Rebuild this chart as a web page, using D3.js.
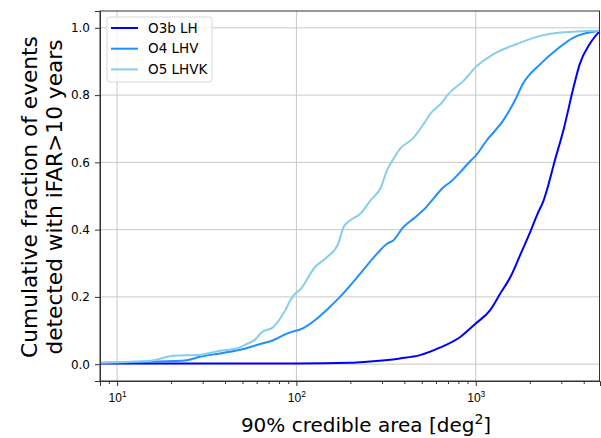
<!DOCTYPE html>
<html>
<head>
<meta charset="utf-8">
<script src="https://cdn.jsdelivr.net/npm/d3@7"></script>
<style>
    body { margin: 0; background: #fff; }
    svg { display: block; font-family: "DejaVu Sans", sans-serif; }
</style>
</head>
<body>
<svg id="chart" width="601" height="438"></svg>
<script>
// series: 90% credible area (deg^2) vs cumulative fraction
const series_names = ["O3b LH", "O4 LHV", "O5 LHVK"];
const series_colors = ["#0000ff", "#1e90ff", "#87ceeb"];

const o3b_area = [8, 100, 200, 247, 378, 489, 630, 820, 1000, 1200, 1370, 1560, 1780, 2030, 2210, 2390, 2520, 2730, 3110, 3510, 3800, 4320, 4930];
const o3b_frac = [0.002, 0.002, 0.004, 0.007, 0.017, 0.027, 0.049, 0.081, 0.121, 0.16, 0.21, 0.259, 0.328, 0.398, 0.447, 0.487, 0.526, 0.596, 0.704, 0.823, 0.892, 0.952, 0.991];

const o4_area = [8, 15, 24.5, 29, 37.5, 50.7, 62.8, 74.2, 88.5, 100, 105, 130, 150, 175, 227, 281, 320, 347, 394, 448, 530, 570, 660, 720, 820, 936, 1000, 1150, 1420, 1650, 1830, 2290, 2850, 3510, 4930];
const o4_frac = [0.003, 0.007, 0.012, 0.022, 0.032, 0.045, 0.06, 0.071, 0.091, 0.1, 0.103, 0.135, 0.165, 0.2, 0.269, 0.328, 0.358, 0.368, 0.407, 0.432, 0.467, 0.487, 0.526, 0.541, 0.571, 0.605, 0.62, 0.665, 0.724, 0.783, 0.833, 0.892, 0.937, 0.971, 0.991];

const o5_area = [8, 15.3, 20.6, 29, 37.5, 46.5, 52.9, 58.8, 64.2, 74.2, 81, 86.6, 92.5, 98.5, 105, 127, 148, 171, 183, 199, 227, 259, 296, 320, 347, 378, 448, 512, 558, 660, 690, 857, 1018, 1258, 1698, 2290, 2975, 4930];
const o5_frac = [0.005, 0.01, 0.025, 0.028, 0.04, 0.047, 0.06, 0.073, 0.095, 0.11, 0.135, 0.16, 0.19, 0.21, 0.222, 0.289, 0.318, 0.358, 0.407, 0.427, 0.447, 0.487, 0.526, 0.576, 0.61, 0.64, 0.672, 0.714, 0.744, 0.783, 0.798, 0.843, 0.887, 0.922, 0.952, 0.976, 0.986, 0.991];

const x_major = [10, 100, 1000];
const y_ticks = [0, 0.2, 0.4, 0.6, 0.8, 1.0];

const x_domain = [8.03, 4930];
const y_domain = [-0.05, 1.05];

const margin = {left: 100, top: 11, right: 1, bottom: 57};
const width = 601, height = 438;

const svg = d3.select("#chart");

const x = d3.scaleLog()
    .domain(x_domain)
    .range([margin.left, width - margin.right]);

const y = d3.scaleLinear()
    .domain(y_domain)
    .range([height - margin.bottom, margin.top]);

let x_minor = [];
[1, 10, 100, 1000].forEach(d => {
    for (let k = 2; k <= 9; k++) {
        let v = d * k;
        if (v >= x_domain[0] && v <= x_domain[1]) x_minor.push(v);
    }
});

// grid
let grid = svg.append("g").classed("grid", true)
    .attr("stroke", "#c8c8c8")
    .attr("stroke-width", 1);

grid.selectAll("line.gx")
    .data(x_major)
    .join("line")
    .classed("gx", true)
    .attr("x1", d => x(d)).attr("x2", d => x(d))
    .attr("y1", margin.top).attr("y2", height - margin.bottom);

grid.selectAll("line.gy")
    .data(y_ticks)
    .join("line")
    .classed("gy", true)
    .attr("x1", margin.left).attr("x2", width - margin.right)
    .attr("y1", d => y(d)).attr("y2", d => y(d));

// lines
let data = [
    {name: series_names[0], color: series_colors[0], area: o3b_area, frac: o3b_frac},
    {name: series_names[1], color: series_colors[1], area: o4_area, frac: o4_frac},
    {name: series_names[2], color: series_colors[2], area: o5_area, frac: o5_frac},
];

let line_generator = d3.line()
    .curve(d3.curveMonotoneX)
    .x(p => x(p[0]))
    .y(p => y(p[1]));

svg.append("clipPath").attr("id", "clip")
    .append("rect")
    .attr("x", margin.left).attr("y", margin.top)
    .attr("width", width - margin.left - margin.right)
    .attr("height", height - margin.top - margin.bottom);

svg.append("g").classed("lines", true)
    .attr("clip-path", "url(#clip)")
    .selectAll("path")
    .data(data)
    .join("path")
    .attr("fill", "none")
    .attr("stroke", d => d.color)
    .attr("stroke-width", 2)
    .attr("stroke-linejoin", "round")
    .attr("d", d => line_generator(d3.zip(d.area, d.frac)));

// axes
let x_axis = svg.append("g")
    .attr("transform", `translate(0, ${height - margin.bottom})`)
    .call(d3.axisBottom(x).tickValues(x_major).tickSize(5).tickFormat(""));

svg.append("g")
    .attr("transform", `translate(0, ${height - margin.bottom})`)
    .call(d3.axisBottom(x).tickValues(x_minor).tickSize(3).tickFormat(""))
    .call(g => g.select(".domain").remove());

x_axis.selectAll(".tick")
    .append("text")
    .attr("y", 21)
    .attr("fill", "#000")
    .attr("font-size", 12)
    .attr("text-anchor", "middle")
    .each(function (d) {
        let t = d3.select(this);
        t.append("tspan").text("10");
        t.append("tspan")
            .attr("font-size", 8.5)
            .attr("dy", -5)
            .text(Math.round(Math.log10(d)));
    });

svg.append("g")
    .attr("transform", `translate(${margin.left}, 0)`)
    .call(d3.axisLeft(y).tickValues(y_ticks).tickSize(5).tickPadding(5).tickFormat(d3.format(".1f")))
    .attr("font-size", 12)
    .attr("font-family", null);

svg.selectAll(".domain").attr("stroke", "#333");
svg.selectAll(".tick line").attr("stroke", "#333");

// frame
svg.append("rect")
    .attr("x", margin.left).attr("y", margin.top)
    .attr("width", width - margin.left - margin.right - 0.5)
    .attr("height", height - margin.top - margin.bottom)
    .attr("fill", "none")
    .attr("stroke", "#333")
    .attr("stroke-width", 1);

// axis labels
let x_label = svg.append("text")
    .attr("x", 366)
    .attr("y", 432)
    .attr("text-anchor", "middle")
    .attr("font-size", 20);
x_label.append("tspan").text("90% credible area [deg");
x_label.append("tspan").attr("font-size", 14).attr("dy", -8).text("2");
x_label.append("tspan").attr("dy", 8).text("]");

let y_label = svg.append("text")
    .attr("transform", `translate(0, ${(margin.top + height - margin.bottom) / 2 + 1}) rotate(-90)`)
    .attr("text-anchor", "middle")
    .attr("font-size", 21.7);
y_label.append("tspan").attr("x", 0).attr("y", 37).text("Cumulative fraction of events");
y_label.append("tspan").attr("x", 0).attr("y", 62).text("detected with iFAR>10 years");

// legend
let legend = svg.append("g").attr("transform", "translate(107, 17)");

legend.append("rect")
    .attr("width", 105)
    .attr("height", 65)
    .attr("rx", 3)
    .attr("fill", "#fff")
    .attr("fill-opacity", 0.8)
    .attr("stroke", "#d8d8d8");

let legend_items = legend.selectAll("g.item")
    .data(data)
    .join("g")
    .classed("item", true)
    .attr("transform", (_, i) => `translate(0, ${11 + i * 20.7})`);

legend_items.append("line")
    .attr("x1", 4).attr("x2", 31)
    .attr("stroke", d => d.color)
    .attr("stroke-width", 2);

legend_items.append("text")
    .attr("x", 41)
    .attr("dy", "0.35em")
    .attr("font-size", 13.5)
    .text(d => d.name);
</script>
</body>
</html>
